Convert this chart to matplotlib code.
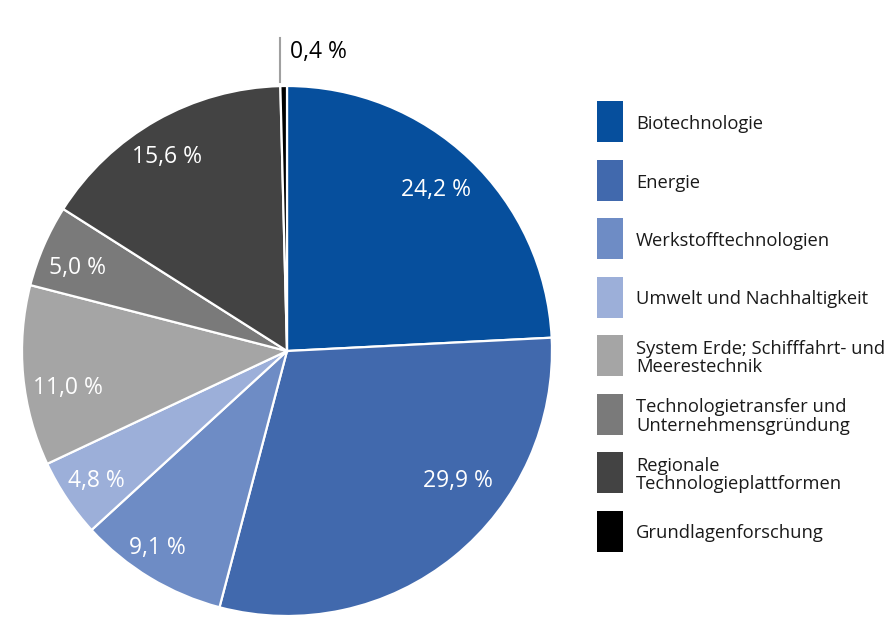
import matplotlib.pyplot as plt
from matplotlib.patches import Rectangle
import numpy as np

plt.rcParams['font.family'] = ['Open Sans', 'DejaVu Sans']

categories = ['Biotechnologie', 'Energie', 'Werkstofftechnologien',
              'Umwelt und Nachhaltigkeit',
              'System Erde; Schifffahrt- und\nMeerestechnik',
              'Technologietransfer und\nUnternehmensgründung',
              'Regionale\nTechnologieplattformen',
              'Grundlagenforschung']
shares = [24.2, 29.9, 9.1, 4.8, 11.0, 5.0, 15.6, 0.4]
labels = ['24,2 %', '29,9 %', '9,1 %', '4,8 %', '11,0 %', '5,0 %', '15,6 %', '0,4 %']
colors = ['#064f9d', '#4169ad', '#6e8cc5', '#9cafd9', '#a5a5a5', '#7a7a7a', '#434343', '#000000']

# label placement tweaks (radius, angle offset in degrees)
label_r = [0.83, 0.81, 0.89, 0.87, 0.84, 0.85, 0.86]
label_da = [0.8, 13.7, -2.2, 0.4, 4.2, 1.7, 2.2]

W, H = 886, 619
fig = plt.figure(figsize=(W / 100, H / 100), dpi=100)

cx, cy, R = 287, 351, 265
ax = fig.add_axes([(cx - R) / W, (H - cy - R) / H, 2 * R / W, 2 * R / H])
wedges, _ = ax.pie(shares, colors=colors, startangle=90, counterclock=False,
                   wedgeprops=dict(edgecolor='white', linewidth=1.6))
ax.set_xlim(-1, 1)
ax.set_ylim(-1, 1)
ax.axis('off')

for i, w in enumerate(wedges[:-1]):
    ang = np.deg2rad((w.theta1 + w.theta2) / 2 + label_da[i])
    ax.text(label_r[i] * np.cos(ang), label_r[i] * np.sin(ang), labels[i],
            ha='center', va='center', color='white', fontsize=16.5)

# small slice: leader line and label outside
w = wedges[-1]
ang = np.deg2rad((w.theta1 + w.theta2) / 2)
x0 = np.cos(ang)
ax.plot([x0 - 0.013, x0 - 0.013], [1.015, 1.18], color='#a0a0a0', lw=1.5, clip_on=False)
ax.text(0.01, 1.13, labels[-1], ha='left', va='center', color='black',
        fontsize=16.5, clip_on=False)

# legend
lg = fig.add_axes([0, 0, 1, 1], zorder=-1)
lg.set_xlim(0, W)
lg.set_ylim(H, 0)
lg.axis('off')
for i, (name, c) in enumerate(zip(categories, colors)):
    y = 101 + i * 58.5
    lg.add_patch(Rectangle((597, y), 26, 41, facecolor=c, edgecolor='none'))
    lg.text(636, y + 23, name, ha='left', va='center', fontsize=13.2,
            color='#1a1a1a', linespacing=1.02)

fig.savefig('out.png', dpi=100, facecolor='white')
